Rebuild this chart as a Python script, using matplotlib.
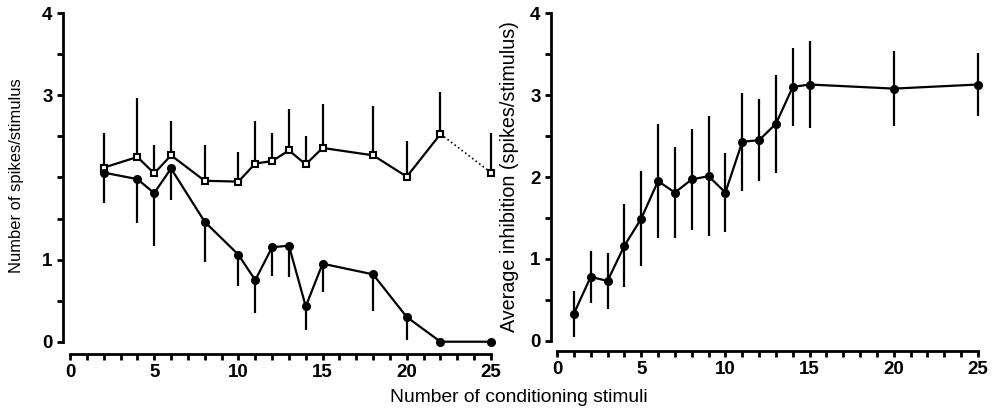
import matplotlib
matplotlib.use("Agg")
import matplotlib.pyplot as plt
import numpy as np

plt.rcParams['font.family'] = ['Liberation Sans', 'DejaVu Sans']

# Left panel: responses to test stimulus
x_left = [2, 4, 5, 6, 8, 10, 11, 12, 13, 14, 15, 18, 20, 22, 25]
control_mean = [2.12, 2.25, 2.05, 2.27, 1.96, 1.95, 2.17, 2.20, 2.33, 2.16, 2.36, 2.27, 2.01, 2.53, 2.06]
control_err = [0.42, 0.72, 0.34, 0.42, 0.44, 0.36, 0.52, 0.34, 0.51, 0.34, 0.54, 0.60, 0.43, 0.51, 0.48]
conditioned_mean = [2.06, 1.98, 1.81, 2.11, 1.46, 1.06, 0.75, 1.15, 1.17, 0.43, 0.95, 0.82, 0.30, 0.0, 0.0]
conditioned_err = [0.37, 0.53, 0.64, 0.38, 0.49, 0.38, 0.40, 0.35, 0.38, 0.29, 0.34, 0.44, 0.28, 0.0, 0.0]

# Right panel: average inhibition
x_right = [1, 2, 3, 4, 5, 6, 7, 8, 9, 10, 11, 12, 13, 14, 15, 20, 25]
inhib_mean = [0.33, 0.78, 0.73, 1.16, 1.49, 1.95, 1.81, 1.97, 2.01, 1.81, 2.43, 2.45, 2.65, 3.10, 3.13, 3.08, 3.13]
inhib_err = [0.28, 0.32, 0.34, 0.51, 0.58, 0.70, 0.56, 0.62, 0.73, 0.48, 0.60, 0.50, 0.60, 0.48, 0.53, 0.46, 0.38]

left_yticks = [0, 1, 3, 4]
right_yticks = [0, 1, 2, 3, 4]
xticks = [0, 5, 10, 15, 20, 25]

W, H = 998, 413
fig = plt.figure(figsize=(W / 100, H / 100), dpi=100)

def px_axes(x0, x1, y_top, y_bot):
    return fig.add_axes([x0 / W, 1 - y_bot / H, (x1 - x0) / W, (y_bot - y_top) / H])

LW = 1.6
SP = 2.0

def style(ax, yticks, xoff_px, yoff_px):
    ax.set_xlim(0, 25)
    ax.set_ylim(0, 4)
    for s in ('top', 'right'):
        ax.spines[s].set_visible(False)
    ax.spines['left'].set_position(('outward', xoff_px * 0.72))
    ax.spines['bottom'].set_position(('outward', yoff_px * 0.72))
    ax.spines['left'].set_linewidth(SP)
    ax.spines['bottom'].set_linewidth(SP)
    ax.set_xticks(xticks)
    ax.set_xticks(np.arange(0, 26, 1), minor=True)
    ax.set_yticks(yticks)
    ax.set_yticks(np.arange(0, 4.01, 0.5), minor=True)
    ax.tick_params(which='both', direction='out', length=4.5, width=SP, labelsize=13.5, pad=3)
    for lab in ax.get_xticklabels() + ax.get_yticklabels():
        lab.set_fontweight('bold')

# Left panel
ax1 = px_axes(70, 491, 13.3, 341.7)
style(ax1, left_yticks, 7, 12)
ax1.plot(x_left[:-1], control_mean[:-1], '-', color='black', lw=LW)
ax1.plot(x_left[-2:], control_mean[-2:], ':', color='black', lw=1.2)
ax1.errorbar(x_left, control_mean, yerr=[np.zeros(len(control_err)), control_err],
             fmt='s', ms=5, mfc='white', mec='black', mew=1.5, ecolor='black',
             elinewidth=LW, capsize=0, zorder=3, clip_on=False)
ax1.errorbar(x_left, conditioned_mean, yerr=[conditioned_err, np.zeros(len(conditioned_err))],
             fmt='o-', ms=5.5, color='black', lw=LW, elinewidth=LW, capsize=0, zorder=3,
             clip_on=False)

# Right panel
ax2 = px_axes(557, 978, 13.3, 340.7)
style(ax2, right_yticks, 6, 10)
ax2.errorbar(x_right, inhib_mean, yerr=inhib_err, fmt='o-', ms=5.5, color='black',
             lw=LW, elinewidth=LW, capsize=0, zorder=3, clip_on=False)

fig.text(17 / W, 1 - 176 / H, 'Number of spikes/stimulus', rotation=90,
         ha='center', va='center', fontsize=11.9)
fig.text(510 / W, 1 - 177 / H, 'Average inhibition (spikes/stimulus)', rotation=90,
         ha='center', va='center', fontsize=14.2)
fig.text(519 / W, 1 - 398 / H, 'Number of conditioning stimuli',
         ha='center', va='center', fontsize=13.9)

fig.savefig('out.png', dpi=100)
